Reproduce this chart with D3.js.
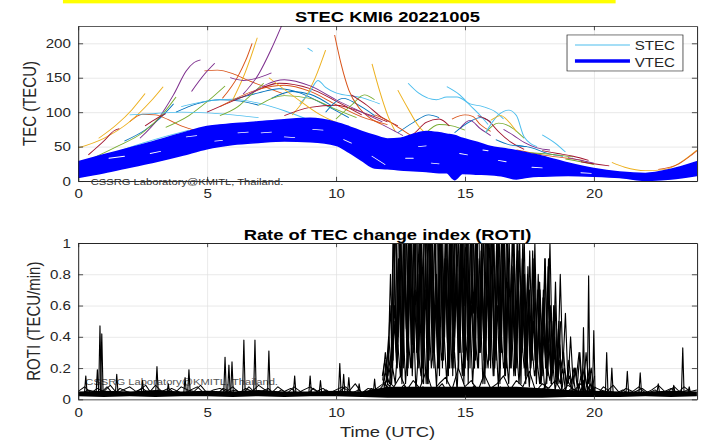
<!DOCTYPE html>
<html>
<head>
<meta charset="utf-8">
<script src="https://cdn.jsdelivr.net/npm/d3@7"></script>
<style>
body { margin: 0; background: #fff; }
text { font-family: "Liberation Sans", Arial, Helvetica, sans-serif; fill: #262626; }
</style>
</head>
<body>
<div id="chart"></div>
<script>
// figure is a MATLAB 560x420 figure stretched to 705x441, so draw in that frame
var hourTicks = [0, 5, 10, 15, 20];
var tecTicks = [0, 50, 100, 150, 200];
var rotiTicks = [0, 0.2, 0.4, 0.6, 0.8, 1];

// VTEC band, envelope (TECU)
var vtecHours = [0,1,2,3,4,5,6,7,8,9,10,10.5,11,11.5,12,12.5,13,13.5,14,14.3,14.6,14.9,15.5,16,16.5,17,17.5,18,19,20,21,22,23,24];
var vtecUpper = [28,38,48,58,69,79,83,86,89,91,85,79,72,66,61,62,68,72,70,68,66,62,56,50,47,44,40,36,26,18,13,11,17,28];
var vtecLower = [5,12,20,28,37,47,53,56,58,57,52,42,30,19,18,16,15,14,12,12,2,11,10,9,7,3,6,7,8,7,5,1,3,8];
var vtecGaps = [
  [[1.2,33],[1.8,36]], [[2.8,40],[3.2,43]], [[4.2,64],[4.6,66]], [[6.2,70],[6.6,71]],
  [[7.1,70],[7.5,71]], [[8.0,64],[8.4,63]], [[9.1,75],[9.5,74]], [[11.4,36],[11.9,24]],
  [[12.7,33],[13.0,33]], [[13.7,26],[14.0,25]], [[14.8,40],[15.1,38]], [[15.7,45],[15.9,44]],
  [[17.6,20],[18.0,19]], [[19.5,12],[19.9,11]], [[5.3,58],[5.6,59]], [[10.3,60],[10.6,55]],
  [[16.3,30],[16.6,28]], [[13.2,50],[13.5,51]]
];

// STEC arcs, [hour, TECU]; colours follow the MATLAB order
var stecMorning = [
  [[1.8,58],[2.6,74],[3.2,92],[3.7,112]],
  [[2.0,86],[2.5,97],[3.0,96],[3.5,89],[4.0,80],[4.6,73]],
  [[0,48],[1,62],[2,86],[2.8,115],[3.3,137]],
  [[2.4,62],[3.1,90],[3.7,125],[4.2,160],[4.5,172],[4.75,176]],
  [[0.5,32],[1.5,50],[2.5,70],[3.3,98],[3.8,122]],
  [[0.6,28],[1.5,42],[2.5,55],[3.5,66],[4.3,74]],
  [[0.4,38],[1,58],[1.4,73],[1.6,76]],
  [[3.8,100],[4.6,112],[5.5,118],[6.3,116],[7,110]],
  [[4.9,160],[5.4,161],[6.0,156],[6.6,146],[7.3,136],[8,126]],
  [[0.8,62],[1.5,82],[2.1,104],[2.6,127]],
  [[4.4,130],[4.9,155],[5.3,171]],
  [[3.4,78],[4.3,95],[5,115],[5.7,138]],
  [[2,96],[3,98],[4,100],[5,99],[6,96],[7,92]],
  [[2.6,80],[3.1,92],[3.4,98]]
];
var stecMidday = [
  [[6,118],[7,128],[7.8,134],[8.6,128],[9.5,112],[10.5,92]],
  [[5.6,120],[6.2,152],[6.5,175],[6.75,200]],
  [[6.0,118],[6.4,150],[6.7,180],[6.95,208]],
  [[6.4,126],[7.0,155],[7.5,192],[7.9,226]],
  [[5.5,95],[6.2,108],[6.7,125],[7.2,142]],
  [[4,108],[5,116],[6,119],[7,113],[8,102],[9,88]],
  [[5,100],[6.5,124],[7.8,142],[9,134],[10,116],[11,96]],
  [[7.5,120],[8.3,130],[9,126],[9.8,110]],
  [[5.5,108],[7,133],[8,139],[9,130],[10,111],[11,93],[12,82]],
  [[8.3,96],[8.8,120],[9.2,150],[9.6,190]],
  [[5.9,150],[6.4,146],[6.9,149],[7.5,157]],
  [[7,110],[8,124],[9,120],[10,104],[10.8,92]],
  [[8.6,112],[9.0,130],[9.3,146],[9.6,136],[10,128],[11,121],[11.7,112]],
  [[8,95],[9,107],[10,110],[11,100],[12,86]],
  [[9.6,100],[10.3,120],[10.8,112],[11.5,95]],
  [[9.95,212],[10.2,170],[10.5,132],[10.9,106],[11.3,92],[11.8,82]],
  [[7.4,150],[8.4,122],[9.4,96],[10.2,82]],
  [[6.6,125],[8,147],[9,138],[10,118],[11,100],[11.8,86]],
  [[10,90],[10.6,110],[11.1,125],[11.5,118]],
  [[8.9,193],[9.1,188]],
  [[10.6,125],[11.2,110],[11.8,92],[12.4,80]]
];
var stecAfternoon = [
  [[12.4,70],[13,85],[13.6,96],[14,92]],
  [[11.5,96],[12,88],[12.5,76],[13,64]],
  [[11.4,170],[11.7,130],[12,96],[12.3,72]],
  [[11.8,82],[12.3,72],[12.6,66]],
  [[13.5,70],[14,82],[14.5,80],[15,74]],
  [[12.8,142],[13.2,128],[13.9,118],[14.3,122],[14.7,122],[15.2,112],[15.7,108],[16.2,100],[16.5,90]],
  [[12.5,60],[13,68],[13.5,85],[14,90],[14.4,80]],
  [[14.6,70],[15.1,84],[15.6,92],[16,86]],
  [[14.5,90],[15,96],[15.3,94],[15.6,82],[16,72]],
  [[12.4,132],[12.8,105],[13.2,80],[13.6,66]],
  [[14.8,76],[15.2,88],[15.6,76],[16,66]],
  [[15.8,70],[16.3,84],[16.8,78],[17.3,62]],
  [[14.3,137],[14.8,125],[15.2,110],[15.6,95],[15.9,82]],
  [[15.5,95],[15.9,88],[16.3,72],[16.8,56],[17.3,46]]
];
var stecEvening = [
  [[17,52],[17.6,48],[18.2,40],[18.8,36]],
  [[17,45],[18,38],[19,33],[19.6,30]],
  [[20.7,27],[21.2,20],[22,15],[22.8,17],[23.4,28],[24,45]],
  [[16.5,75],[16.9,66],[17.3,56],[17.8,48],[18.3,45]],
  [[17.5,41],[18.5,38],[19.2,35]],
  [[15.8,70],[16.3,96],[16.7,103],[17,95],[17.3,64],[17.8,50]],
  [[18,44],[18.6,40],[19.2,36],[19.8,30]],
  [[16.2,60],[16.8,52],[17.4,50]],
  [[22.5,17],[23.3,25],[23.8,38],[24,44]],
  [[16,88],[16.4,95],[16.7,86],[17,72]],
  [[19,34],[19.5,30],[20,26]],
  [[18.9,32],[19.5,28],[20,24]],
  [[18,67],[18.5,55],[18.9,42]],
  [[19.5,28],[20.2,24],[20.6,22]]
];
var matlabColors = ["#0072BD","#D95319","#EDB120","#7E2F8E","#77AC30","#4DBEEE","#A2142F"];

// ROTI: quiet background, every 0.25 h
var rotiNoiseA = [0.05,0.08,0.04,0.07,0.05,0.09,0.04,0.06,0.08,0.05,0.07,0.04,0.09,
  0.05,0.07,0.04,0.08,0.06,0.05,0.09,0.04,0.06,0.07,0.05,0.08,
  0.04,0.07,0.05,0.09,0.06,0.04,0.08,0.05,0.07,0.04,0.06,0.08,
  0.05,0.07,0.04,0.06,0.08,0.05,0.1,0.04,0.07,0.06,0.09,0.12,
  0.08,0.15,0.06,0.12,0.07,0.18,0.05,0.1,0.14,0.06,0.2,0.08,
  0.12,0.05,0.16,0.07,0.1,0.15,0.06,0.12,0.08,0.18,0.05,0.1,
  0.07,0.12,0.05,0.09,0.06,0.1,0.04,0.08,0.06,0.05,0.09,0.04,
  0.07,0.05,0.08,0.04,0.06,0.09,0.05,0.07,0.04,0.08,0.05,0.06];
var rotiNoiseB = [0.03,0.06,0.05,0.04,0.08,0.03,0.07,0.05,0.04,0.06,0.09,0.03,
  0.06,0.04,0.07,0.05,0.03,0.06,0.08,0.04,0.05,0.03,0.07,0.05,
  0.06,0.03,0.08,0.04,0.05,0.07,0.03,0.06,0.04,0.08,0.05,0.03,
  0.07,0.04,0.06,0.03,0.05,0.08,0.04,0.06,0.03,0.07,0.05,0.1,
  0.06,0.04,0.09,0.05,0.03,0.08,0.04,0.06,0.1,0.03,0.07,0.05,
  0.04,0.09,0.03,0.06,0.05,0.08,0.03,0.07,0.04,0.06,0.03,0.05,
  0.08,0.04,0.06,0.03,0.07,0.05,0.04,0.06,0.03,0.08,0.05,0.04,
  0.06,0.03,0.05,0.07,0.04,0.06,0.03,0.05,0.08,0.04,0.06,0.03];
var rotiBandHours = [0,1,2,3,4,5,6,7,8,9,10,11,12,13,14,15,16,17,18,19,20,21,22,23,24];
var rotiBandLow  = [0.02,0.015,0.02,0.015,0.02,0.02,0.015,0.02,0.015,0.02,0.02,0.015,0.01,0.01,0.01,0.01,0.01,0.01,0.01,0.015,0.015,0.015,0.02,0.015,0.02];
var rotiBandHigh = [0.05,0.055,0.05,0.06,0.05,0.055,0.05,0.06,0.05,0.05,0.055,0.05,0.08,0.08,0.08,0.08,0.08,0.08,0.07,0.06,0.055,0.05,0.05,0.055,0.05];

// isolated ROTI bursts [hour, TECU/min]
var rotiSpikes = [[0.3,0.15],[0.75,0.19],[0.85,0.47],[0.92,0.42],[1.5,0.16],[2.5,0.12],[3.06,0.21],
  [3.5,0.1],[4.15,0.14],[4.3,0.19],[5.7,0.27],[5.85,0.22],[5.97,0.24],[6.43,0.38],[6.86,0.38],
  [7.4,0.31],[8.4,0.15],[9.0,0.15],[9.4,0.12],[10.15,0.23],[10.3,0.16],[10.5,0.14],[10.9,0.1],
  [11.5,0.13],[19.6,0.46],[19.8,0.79],[20.0,0.44],[20.5,0.3],[20.7,0.2],[21.3,0.18],[21.8,0.17],
  [22.5,0.1],[23.1,0.09],[23.45,0.33],[23.7,0.08]];

// storm period, every 0.1 h from each series' start hour
var stormStart = [11.8, 11.83, 11.86, 11.9, 11.815, 11.845, 11.875];
var stormA = [0.15,0.25,0.1,0.6,0.2,1.3,0.3,1.2,0.4,1.5,0.2,1.1,0.5,1.4,0.3,0.9,0.1,1.2,0.4,1.3,
  0.2,0.8,0.3,1.4,0.5,1.1,0.2,1.3,0.4,1.0,0.3,1.5,0.6,1.2,0.2,1.3,0.5,0.9,0.3,1.4,
  0.4,1.1,0.2,1.2,0.5,1.0,0.3,1.3,0.4,0.9,0.2,1.1,0.3,0.95,0.4,1.05,0.2,0.7,0.3,0.85,
  0.2,0.75,0.15,0.9,0.3,1.0,0.2,0.6,0.15,0.8,0.2,0.55,0.1,0.4,0.1,0.2,0.05,0.15,0.05,0.3,
  0.1,0.2,0.05];
var stormB = [0.1,0.2,0.3,0.15,1.2,0.35,0.9,0.15,1.3,0.45,1.1,0.2,1.4,0.3,0.8,0.1,1.2,0.5,1.3,0.25,
  1.1,0.4,1.5,0.2,0.9,0.35,1.2,0.15,1.4,0.45,1.0,0.3,1.3,0.1,1.2,0.55,1.1,0.2,0.95,0.4,
  1.3,0.25,1.2,0.15,1.0,0.45,1.1,0.3,1.2,0.2,0.85,0.35,1.05,0.15,0.9,0.3,0.8,0.2,0.95,0.25,
  0.7,0.1,0.65,0.2,0.85,0.15,0.5,0.1,0.45,0.2,0.3,0.08,0.25,0.1,0.2,0.15,0.3,0.1,0.2,0.08,
  0.2,0.06,0.15];
var stormC = [0.08,0.12,0.2,0.1,0.5,0.2,0.7,0.1,0.9,0.3,1.2,0.15,0.6,0.25,1.0,0.2,0.7,0.1,1.1,0.3,
  0.6,0.2,1.2,0.35,0.8,0.15,1.0,0.3,0.7,0.2,1.3,0.1,0.9,0.4,0.6,0.2,1.1,0.3,0.8,0.15,
  0.7,0.35,1.0,0.2,0.6,0.1,0.9,0.3,0.75,0.2,0.6,0.15,0.8,0.3,0.55,0.1,0.7,0.2,0.5,0.15,
  0.45,0.1,0.4,0.2,0.35,0.1,0.3,0.15,0.25,0.05,0.2,0.1,0.15,0.05,0.2,0.08,0.3,0.06,0.15,0.05,
  0.1,0.04,0.08];
var stormD = [0.05,0.1,0.08,0.2,0.1,0.35,0.15,0.5,0.1,0.4,0.2,0.6,0.05,0.3,0.15,0.45,0.1,0.55,0.2,0.35,
  0.08,0.5,0.25,0.4,0.1,0.6,0.2,0.3,0.05,0.5,0.15,0.45,0.25,0.55,0.1,0.4,0.2,0.6,0.1,0.35,
  0.2,0.5,0.15,0.4,0.08,0.45,0.2,0.3,0.1,0.5,0.15,0.35,0.1,0.4,0.2,0.3,0.08,0.35,0.15,0.25,
  0.1,0.3,0.05,0.2,0.12,0.25,0.06,0.15,0.1,0.2,0.05,0.12,0.08,0.15,0.04,0.1,0.05,0.12,0.04,0.08,
  0.03,0.06,0.04];
var stormE = [0.12,0.3,0.15,0.8,0.25,1.2,0.4,1.1,0.2,1.3,0.5,1.2,0.3,1.4,0.2,1.1,0.45,1.3,0.25,1.2,
  0.35,1.4,0.15,1.0,0.4,1.3,0.2,1.2,0.5,1.4,0.3,1.1,0.2,1.3,0.45,1.2,0.25,1.4,0.35,1.1,
  0.2,1.3,0.4,1.0,0.25,1.2,0.3,1.1,0.2,1.05,0.35,0.9,0.2,1.1,0.3,0.8,0.15,0.95,0.25,1.0,
  0.2,0.7,0.3,0.9,0.15,0.6,0.2,0.75,0.1,0.5];
var stormF = [0.1,0.18,0.4,0.2,1.1,0.3,1.3,0.15,1.2,0.4,1.0,0.25,1.3,0.5,1.2,0.2,1.4,0.3,1.1,0.45,
  1.2,0.2,1.3,0.35,1.1,0.15,1.4,0.4,1.2,0.25,1.3,0.5,1.1,0.3,1.2,0.2,1.4,0.35,1.0,0.25,
  1.2,0.4,1.3,0.2,1.1,0.3,1.2,0.15,1.0,0.35,1.1,0.2,0.9,0.3,1.0,0.15,0.85,0.25,0.9,0.2,
  0.8,0.15,0.7,0.2,0.9,0.1,0.6,0.15,0.5,0.1];
var stormG = [0.06,0.15,0.1,0.3,0.6,0.2,1.0,0.3,0.8,0.15,1.1,0.35,0.7,0.2,1.2,0.3,0.9,0.1,1.0,0.4,
  0.8,0.2,1.1,0.25,0.9,0.35,1.2,0.2,0.8,0.3,1.0,0.15,1.1,0.4,0.7,0.2,1.0,0.3,0.9,0.1,
  1.1,0.25,0.8,0.3,0.9,0.2,1.0,0.15,0.7,0.3,0.8,0.2,0.75,0.1,0.9,0.2,0.6,0.25,0.7,0.1,
  0.55,0.2,0.65,0.1,0.5,0.15,0.4,0.1,0.35,0.08];

var svg = d3.select("#chart").append("svg")
  .attr("width", 705).attr("height", 441)
  .attr("viewBox", "0 0 560 420")
  .attr("preserveAspectRatio", "none");

var L = 62, R = 553.6;
var x = d3.scaleLinear().domain([0, 24]).range([L, R]);
var yTec = d3.scaleLinear().domain([0, 225]).range([172.4, 24.8]);
var yRoti = d3.scaleLinear().domain([0, 1]).range([380.3, 231.4]);

// yellow marker strip on top
svg.append("rect").attr("x", 50).attr("y", 0).attr("width", 439).attr("height", 3.2).attr("fill", "#ffff00");

var defs = svg.append("defs");
[["clipTec", yTec], ["clipRoti", yRoti]].forEach(function(c) {
  defs.append("clipPath").attr("id", c[0]).append("rect")
    .attr("x", L).attr("y", c[1].range()[1])
    .attr("width", R - L).attr("height", c[1].range()[0] - c[1].range()[1]);
});

function grid(y, yt) {
  var h = y.range()[0] - y.range()[1];
  var g = svg.append("g").attr("class", "grid");
  g.append("g").attr("transform", "translate(0," + y.range()[0] + ")")
    .call(d3.axisBottom(x).tickValues(hourTicks).tickSize(-h).tickFormat(""));
  g.append("g").attr("transform", "translate(" + L + ",0)")
    .call(d3.axisLeft(y).tickValues(yt).tickSize(-(R - L)).tickFormat(""));
  g.selectAll(".domain").remove();
  g.selectAll("line").attr("stroke", "#dfdfdf").attr("stroke-width", 0.6);
}

function frame(y, yt, fmt) {
  var g = svg.append("g");
  g.append("g").attr("transform", "translate(0," + y.range()[0] + ")")
    .call(d3.axisBottom(x).tickValues(hourTicks).tickSizeInner(-4).tickSizeOuter(0).tickPadding(8));
  g.append("g").attr("transform", "translate(0," + y.range()[1] + ")")
    .call(d3.axisTop(x).tickValues(hourTicks).tickSizeInner(-4).tickSizeOuter(0).tickFormat(""));
  g.append("g").attr("transform", "translate(" + L + ",0)")
    .call(d3.axisLeft(y).tickValues(yt).tickSizeInner(-4).tickSizeOuter(0).tickPadding(5.7).tickFormat(fmt));
  g.append("g").attr("transform", "translate(" + R + ",0)")
    .call(d3.axisRight(y).tickValues(yt).tickSizeInner(-4).tickSizeOuter(0).tickFormat(""));
  g.selectAll(".domain").attr("stroke", "#262626").attr("stroke-width", 0.8);
  g.selectAll("line").attr("stroke", "#262626").attr("stroke-width", 0.7);
  g.selectAll("text").attr("font-size", 12).attr("fill", "#262626");
  g.selectAll("g").attr("font-family", null).attr("font-size", null);
}

// ---------- top panel: STEC / VTEC ----------
grid(yTec, tecTicks);

var tecLine = d3.line().x(function(d) { return x(d[0]); }).y(function(d) { return yTec(d[1]); }).curve(d3.curveMonotoneX);
var pTop = svg.append("g").attr("clip-path", "url(#clipTec)");

[].concat(stecMorning, stecMidday, stecAfternoon, stecEvening).forEach(function(tr, i) {
  pTop.append("path").attr("d", tecLine(tr)).attr("fill", "none")
    .attr("stroke", matlabColors[i % 7]).attr("stroke-width", 0.8);
});

var vtecArea = d3.area()
  .x(function(d, i) { return x(vtecHours[i]); })
  .y0(function(d, i) { return yTec(vtecLower[i]); })
  .y1(function(d, i) { return yTec(vtecUpper[i]); })
  .curve(d3.curveMonotoneX);
pTop.append("path").attr("d", vtecArea(vtecHours)).attr("fill", "#0000ff")
  .attr("stroke", "#0000ff").attr("stroke-width", 1.5).attr("stroke-linejoin", "round");

vtecGaps.forEach(function(gp) {
  pTop.append("path").attr("d", tecLine(gp)).attr("fill", "none")
    .attr("stroke", "#fff").attr("stroke-width", 0.8).attr("stroke-linecap", "round");
});

frame(yTec, tecTicks, d3.format("d"));

svg.append("text").attr("x", 72).attr("y", 176).attr("font-size", 8.9)
  .style("fill", "#333").text("CSSRG Laboratory@KMITL, Thailand.");

// legend
var lg = svg.append("g");
lg.append("rect").attr("x", 450.4).attr("y", 33.3).attr("width", 92.1).attr("height", 34.3)
  .attr("fill", "#fff").attr("stroke", "#262626").attr("stroke-width", 0.6);
lg.append("line").attr("x1", 456.7).attr("x2", 500.4).attr("y1", 42.9).attr("y2", 42.9)
  .attr("stroke", matlabColors[5]).attr("stroke-width", 0.8);
lg.append("line").attr("x1", 456.7).attr("x2", 500.4).attr("y1", 58.1).attr("y2", 58.1)
  .attr("stroke", "#0000ff").attr("stroke-width", 3.5);
lg.append("text").attr("x", 504.2).attr("y", 47.6).attr("font-size", 12).text("STEC");
lg.append("text").attr("x", 504.2).attr("y", 63.5).attr("font-size", 12).text("VTEC");

svg.append("text").attr("x", (L + R) / 2).attr("y", 20.6).attr("text-anchor", "middle")
  .attr("font-size", 14.6).attr("font-weight", "bold").style("fill", "#000").text("STEC KMI6 20221005");
svg.append("text").attr("transform", "translate(28.6," + (yTec.range()[0] + yTec.range()[1]) / 2 + ") rotate(-90)")
  .attr("text-anchor", "middle").attr("font-size", 14.3).text("TEC (TECU)");

// ---------- bottom panel: ROTI ----------
grid(yRoti, rotiTicks);

svg.append("text").attr("x", 67.8).attr("y", 366.7).attr("font-size", 8.9)
  .style("fill", "#555").text("CSSRG Laboratory@KMITL, Thailand.");

var rotiLine = d3.line().x(function(d) { return x(d[0]); }).y(function(d) { return yRoti(d[1]); });
var pBot = svg.append("g").attr("clip-path", "url(#clipRoti)");

var band = d3.area()
  .x(function(d, i) { return x(rotiBandHours[i]); })
  .y0(function(d, i) { return yRoti(rotiBandLow[i]); })
  .y1(function(d, i) { return yRoti(rotiBandHigh[i]); });
pBot.append("path").attr("d", band(rotiBandHours)).attr("fill", "#000");

function drawRoti(pts) {
  pBot.append("path").attr("d", rotiLine(pts)).attr("fill", "none")
    .attr("stroke", "#000").attr("stroke-width", 0.9).attr("stroke-linejoin", "round");
}
drawRoti(rotiNoiseA.map(function(v, i) { return [i * 0.25, v]; }));
drawRoti(rotiNoiseB.map(function(v, i) { return [0.125 + i * 0.25, v]; }));

rotiSpikes.forEach(function(s) {
  drawRoti([[s[0] - 0.05, 0.04], [s[0], s[1]], [s[0] + 0.05, 0.04]]);
});

[stormA, stormB, stormC, stormD, stormE, stormF, stormG].forEach(function(ser, k) {
  drawRoti(ser.map(function(v, i) { return [stormStart[k] + i * 0.1, v]; }));
});

frame(yRoti, rotiTicks, d3.format("~g"));

svg.append("text").attr("x", (L + R) / 2).attr("y", 228.6).attr("text-anchor", "middle")
  .attr("font-size", 14.6).attr("font-weight", "bold").style("fill", "#000").text("Rate of TEC change index (ROTI)");
svg.append("text").attr("transform", "translate(31.8," + (yRoti.range()[0] + yRoti.range()[1]) / 2 + ") rotate(-90)")
  .attr("text-anchor", "middle").attr("font-size", 14.3).text("ROTI (TECU/min)");
svg.append("text").attr("x", (L + R) / 2).attr("y", 415.9).attr("text-anchor", "middle")
  .attr("font-size", 14.6).text("Time (UTC)");
</script>
</body>
</html>
